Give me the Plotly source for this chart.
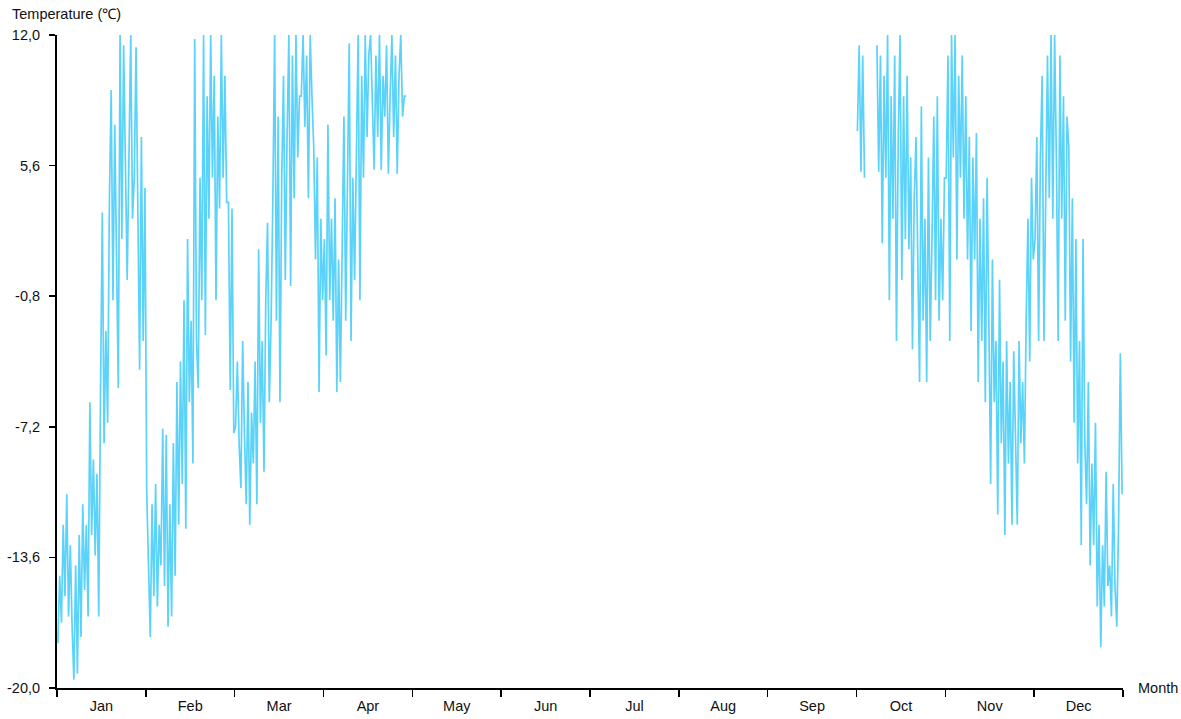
import plotly.graph_objects as go

months = ["Jan", "Feb", "Mar", "Apr", "May", "Jun", "Jul", "Aug", "Sep", "Oct", "Nov", "Dec"]
y_ticks = [12.0, 5.6, -0.8, -7.2, -13.6, -20.0]
y_tick_text = ["12,0", "5,6", "-0,8", "-7,2", "-13,6", "-20,0"]

jan = [-17.8, -14.5, -16.8, -12, -15.5, -10.5, -16.5, -13, -17, -19.6,
       -14, -19.3, -12.5, -17.5, -11, -15.2, -12, -16.5, -6, -12.5,
       -8.8, -13.5, -9.5, -16.5, -5.5, 3.3, -8, -2.5, -7, 4,
       9.3, -1, 7.6, 0.5, -5.3, 12, 2, 11.5, 5.5, 0,
       6, 12, 3, 5, 11.4, 4, -4.4, 7, -3, 4.5]
feb = [-10.4, -14, -17.5, -11, -15.5, -10, -16, -12, -14, -7.3,
       -15, -7.6, -17, -11, -16.5, -8, -14.5, -5, -12, -4,
       -10, -1, -12.2, 2, -6, -2, -9, 11.8, -3, -5.3,
       5, -1, 12, -2.7, 9, 3, 12, 5, 10, -1,
       8, 3.5, 12, 5, 10, 3.8, 3.8, -5.4, 3.5, -7.5]
mar = [-7.2, -4, -8, -10.2, -3, -7.5, -11, -5, -12, -6.5,
       -9, -4, -11, 1.5, -7, -3, -9.4, -1, 2.8, -6,
       -2, 4, 12, -2, 8, -6, 5, 10, 0, 7,
       12, -0.3, 11, 4, 12, 6, 9, 9, 12, 7.5,
       11, 4, 12, 9, 6.5, 1, 6, -5.5, 3, -1]
apr = [2, -3.7, 7.6, -1, 3, -2, 4, -5.5, 1, -5,
       3, 8, -2, 6, 11.6, -3, 5, 0, 6, 12,
       -1, 10, 5, 12, 7, 11, 12, 8, 5.4, 11,
       7, 12, 5.4, 10, 8, 11.5, 5.2, 9, 12, 7,
       11, 5.2, 10, 12, 8, 9, 9, None, None, None]
oct_ = [7.3, 11.5, 5.3, 11, 5, None, None, None, None, None,
        None, 11.5, 5.3, 11, 1.8, 10, 5, 12, -1, 9,
        3, 11, -3, 7, 12, 0, 9, 2, 10, 1.5,
        6, -3.4, 4, 7, 0, -5, 8.5, -2, 3, -5,
        6, -3, 2, 8, -1, 9, -2, 3, -1, 5]
nov = [5, 11, -3, 12, 6, 12, 1, 10, 5, 11,
       3, 9, 1, 7, -2.5, 6, 1, 7.2, -5, 3,
       -3, 4, -6, 5, -2, -10, 1, -6, -3, -11.5,
       0, -8, -4, -12.5, -3, -9, -5, -12, -3.5, -8,
       -12, -3, -8, -5, -9, -2, 3, -4, 5, 1]
dec = [2, 7, -3, 6, 10, -3, 5, 11, 4, 12,
       3, 12, 6, -3, 11, 3, 9, -2, 8, 6.5,
       -4, 4, -7, 2, -9, -3, -13, 2, -8, -11,
       -5, -14, -9, -13, -7, -16, -12, -18, -13, -16,
       -9.4, -15, -14, -16.5, -10, -15, -17, -12, -3.6, -10.5]

series_by_month = {0: jan, 1: feb, 2: mar, 3: apr, 9: oct_, 10: nov, 11: dec}

xs, ys = [], []
prev = None
for m in sorted(series_by_month):
    vals = series_by_month[m]
    if prev is not None and m != prev + 1:
        xs.append(None)
        ys.append(None)
    n = len(vals)
    for i, v in enumerate(vals):
        xs.append(m + (i + 0.5) / n)
        ys.append(v)
    prev = m

fig = go.Figure()
fig.add_trace(go.Scatter(
    x=xs, y=ys, mode="lines", connectgaps=False,
    line=dict(color="#5AD2FA", width=1.7),
    hoverinfo="skip", showlegend=False,
))

font = dict(family="Liberation Sans, Arial, sans-serif", size=14.5, color="#111111")

fig.update_layout(
    width=1181, height=719,
    margin=dict(l=57, r=58, t=35, b=31, autoexpand=False),
    plot_bgcolor="white", paper_bgcolor="white",
    font=font,
    xaxis=dict(
        range=[0, 12], showgrid=False, zeroline=False, automargin=False,
        showline=True, linecolor="black", linewidth=2,
        tickmode="array", tickvals=[i + 0.5 for i in range(12)], ticktext=months,
        ticks="", tickfont=font, ticklabelstandoff=4,
        minor=dict(tickmode="array", tickvals=list(range(13)), ticks="outside",
                   ticklen=7, tickwidth=1.5, tickcolor="black", showgrid=False),
    ),
    yaxis=dict(
        range=[-20, 12], showgrid=False, zeroline=False, automargin=False,
        showline=True, linecolor="black", linewidth=2,
        tickmode="array", tickvals=y_ticks, ticktext=y_tick_text,
        ticks="outside", ticklen=6, tickwidth=1.5, tickcolor="black",
        tickfont=font, ticklabelstandoff=6,
    ),
    annotations=[
        dict(text="Temperature (℃)", xref="paper", yref="paper", x=0, y=1,
             xshift=-47, yshift=21, xanchor="left", yanchor="middle",
             showarrow=False, font=font),
        dict(text="Month", xref="paper", yref="paper", x=1, y=0,
             xshift=13, yshift=0, xanchor="left", yanchor="middle",
             showarrow=False, font=font),
    ],
)

fig.write_html(
    "out.html",
    config={"displayModeBar": False, "staticPlot": True},
    post_script="document.body.style.margin='0';document.body.style.overflow='hidden';",
)
